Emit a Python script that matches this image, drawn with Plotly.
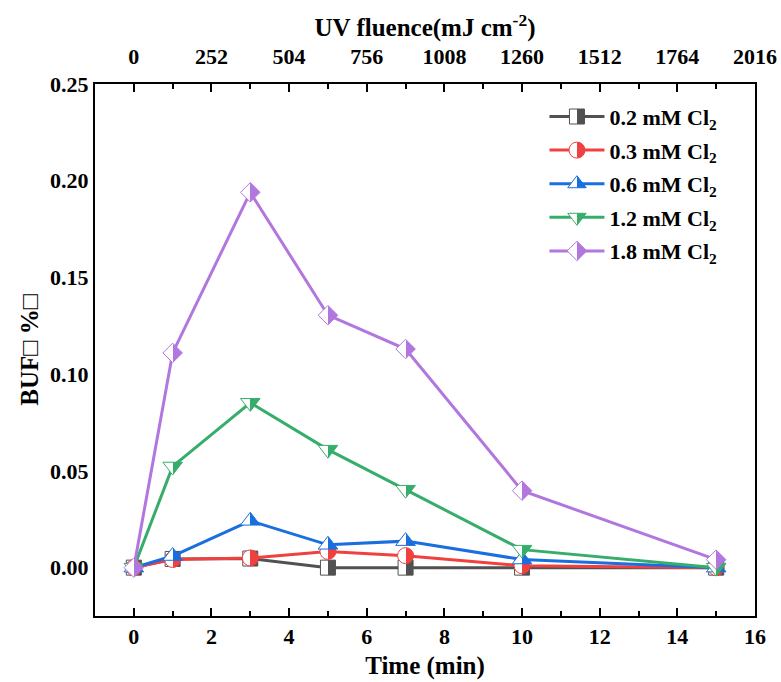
import plotly.graph_objects as go

# Sampling times (min) and BUF yield (%) for each chlorine dose
time_min = [0, 1, 3, 5, 7, 10, 15]
buf_02 = [0.0, 0.0045, 0.0047, 0.0, 0.0, 0.0, 0.0]
buf_03 = [0.0, 0.0042, 0.0050, 0.0084, 0.0062, 0.0010, 0.0]
buf_06 = [0.0, 0.0060, 0.0242, 0.0118, 0.0137, 0.0042, 0.0]
buf_12 = [0.0, 0.0523, 0.0852, 0.0610, 0.0403, 0.0093, 0.0]
buf_18 = [0.0, 0.1110, 0.1940, 0.1305, 0.1130, 0.0398, 0.0041]

series_names = ["0.2 mM Cl<sub>2</sub>", "0.3 mM Cl<sub>2</sub>", "0.6 mM Cl<sub>2</sub>",
                "1.2 mM Cl<sub>2</sub>", "1.8 mM Cl<sub>2</sub>"]
series_values = [buf_02, buf_03, buf_06, buf_12, buf_18]
series_colors = ["#515151", "#F14040", "#1A6FDF", "#37AD6B", "#B177DE"]
series_symbols = ["square", "circle", "triangle-up", "triangle-down", "diamond"]
series_sizes = [15, 16, 17, 17, 15]

# UV fluence delivered per minute of exposure (mJ cm^-2)
fluence_per_min = 126
x_range = [-1, 16]
x_ticks = [0, 2, 4, 6, 8, 10, 12, 14, 16]
top_ticks = [0, 252, 504, 756, 1008, 1260, 1512, 1764, 2016]
y_ticks = [0.00, 0.05, 0.10, 0.15, 0.20, 0.25]
y_range = [-0.025, 0.25]

FONT = "Liberation Serif"

fig = go.Figure()

for name, vals, col, sym, sz in zip(series_names, series_values, series_colors,
                                     series_symbols, series_sizes):
    fig.add_trace(go.Scatter(
        x=time_min, y=vals, name=name, mode="lines+markers",
        legendgroup=name,
        line=dict(color=col, width=3),
        marker=dict(symbol=sym, size=sz, color=col,
                    line=dict(color=col, width=1),
                    gradient=dict(type="horizontal", color="white")),
    ))

# invisible helper trace so the fluence axis is laid out on top
fig.add_trace(go.Scatter(
    x=[t * fluence_per_min for t in time_min], y=buf_18,
    xaxis="x2", yaxis="y", mode="markers",
    marker=dict(opacity=0), showlegend=False, hoverinfo="skip",
))

axis_font = dict(family=FONT, size=22, color="black", weight="bold")
title_font = dict(family=FONT, size=25, color="black", weight="bold")

fig.update_layout(
    width=781, height=682,
    margin=dict(l=95, r=26, t=84, b=66, autoexpand=False),
    paper_bgcolor="white", plot_bgcolor="white",
    font=dict(family=FONT, color="black"),
    showlegend=True,
    legend=dict(
        x=0.681, y=0.978, xanchor="left", yanchor="top",
        bgcolor="rgba(0,0,0,0)", borderwidth=0,
        font=dict(family=FONT, size=22, color="black", weight="bold"),
        traceorder="grouped", tracegroupgap=2, itemwidth=55,
    ),
    xaxis=dict(
        range=x_range, tickvals=x_ticks, ticktext=[str(v) for v in x_ticks],
        showgrid=False, zeroline=False, automargin=False,
        showline=True, linecolor="black", linewidth=2,
        ticks="inside", ticklen=8, tickwidth=2, tickcolor="black",
        minor=dict(dtick=1, ticks="inside", ticklen=5, tickwidth=2, tickcolor="black"),
        tickfont=axis_font,
        title=dict(text="Time (min)", font=title_font, standoff=8),
        mirror=False,
    ),
    xaxis2=dict(
        overlaying="x", side="top", anchor="y", automargin=False,
        range=[x_range[0] * fluence_per_min, x_range[1] * fluence_per_min],
        tickvals=top_ticks, ticktext=[str(v) for v in top_ticks],
        showgrid=False, zeroline=False,
        showline=True, linecolor="black", linewidth=2,
        ticks="inside", ticklen=8, tickwidth=2, tickcolor="black",
        minor=dict(dtick=fluence_per_min, ticks="inside", ticklen=5, tickwidth=2,
                   tickcolor="black"),
        tickfont=axis_font, ticklabelstandoff=9,
        title=dict(text="UV fluence(mJ cm<sup>-2</sup>)", font=title_font, standoff=0),
    ),
    yaxis=dict(
        range=y_range, tickvals=y_ticks, ticktext=[f"{v:.2f}" for v in y_ticks],
        showgrid=False, zeroline=False, automargin=False,
        showline=True, linecolor="black", linewidth=2, mirror=True,
        ticks="", tickfont=axis_font,
        title=dict(text="BUF\u25a1 %\u25a1", font=title_font, standoff=4),
    ),
)

# turn every marker gradient into a hard split: white left half, colour right half
half_fill_js = """
var gd = document.getElementById('{plot_id}');
function isWhite(c) {
    c = (c || '').replace(/\\s/g, '').toLowerCase();
    return c === '#fff' || c === '#ffffff' || c === 'white' || c === 'rgb(255,255,255)';
}
gd.querySelectorAll('linearGradient').forEach(function (g) {
    var stops = g.querySelectorAll('stop');
    if (stops.length !== 2) { return; }
    var w = stops[0], c = stops[1];
    if (!isWhite(w.getAttribute('stop-color'))) { w = stops[1]; c = stops[0]; }
    var wc = w.getAttribute('stop-color'), cc = c.getAttribute('stop-color');
    var ns = 'http://www.w3.org/2000/svg';
    while (g.firstChild) { g.removeChild(g.firstChild); }
    [[0, wc], [50, wc], [50, cc], [100, cc]].forEach(function (s) {
        var st = document.createElementNS(ns, 'stop');
        st.setAttribute('offset', s[0] + '%');
        st.setAttribute('stop-color', s[1]);
        st.setAttribute('stop-opacity', '1');
        g.appendChild(st);
    });
    g.setAttribute('x1', '0'); g.setAttribute('y1', '0');
    g.setAttribute('x2', '1'); g.setAttribute('y2', '0');
});
"""

fig.write_html("out.html", post_script=half_fill_js)
